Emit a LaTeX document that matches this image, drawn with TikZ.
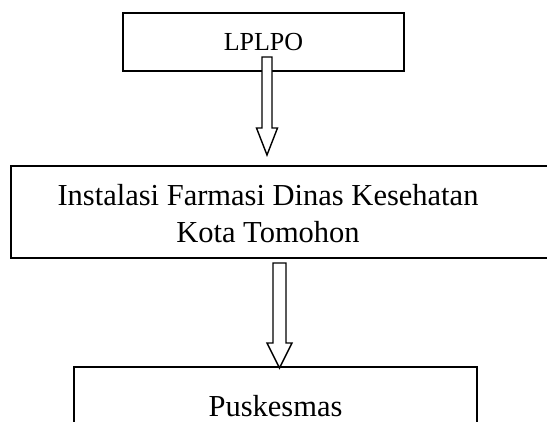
\documentclass[tikz,border=0pt]{standalone}
\usepackage{fontspec}
\setmainfont{Liberation Serif}
\usepackage{tikz}
\usetikzlibrary{calc}

\begin{document}
\begin{tikzpicture}[x=1pt, y=-1pt]
\tikzstyle{box}=[draw=black, line width=2pt, rectangle, fill=white, inner sep=0pt]
\tikzstyle{hollow}=[draw=black, line width=1.4pt, fill=white, line join=miter]

\useasboundingbox (0,0) rectangle (547,421);
\clip (0,0) rectangle (547,421);

\node[box, minimum width=281pt, minimum height=58pt, font=\fontsize{26}{31}\selectfont]  (lplpo) at (263.5,42) {LPLPO};
\node[box, minimum width=560pt, minimum height=92pt, anchor=north west] (ifk) at (10,165) {};
\node[align=center, inner sep=0pt, font=\fontsize{30.5}{37}\selectfont] (ifktext) at (268,213.5) {Instalasi Farmasi Dinas Kesehatan\\Kota Tomohon};
\node[box, minimum width=403pt, minimum height=78pt, font=\fontsize{30.5}{37}\selectfont] (pkm) at (275.5,406) {Puskesmas};

\coordinate (a1s) at (267,57);
\coordinate (a1e) at (267,155);
\coordinate (a2s) at (279.5,263);
\coordinate (a2e) at (279.5,368);

% LPLPO to instalasi
\draw[hollow] ($(a1s)+(-5,0)$) -- ($(a1e)+(-5,-27)$) -- ($(a1e)+(-10.5,-27)$) -- (a1e)
  -- ($(a1e)+(10.5,-27)$) -- ($(a1e)+(5,-27)$) -- ($(a1s)+(5,0)$) -- cycle;

% instalasi to puskesmas
\draw[hollow] ($(a2s)+(-6.5,0)$) -- ($(a2e)+(-6.5,-25)$) -- ($(a2e)+(-12.5,-25)$) -- (a2e)
  -- ($(a2e)+(12.5,-25)$) -- ($(a2e)+(6.5,-25)$) -- ($(a2s)+(6.5,0)$) -- cycle;

\end{tikzpicture}
\end{document}
